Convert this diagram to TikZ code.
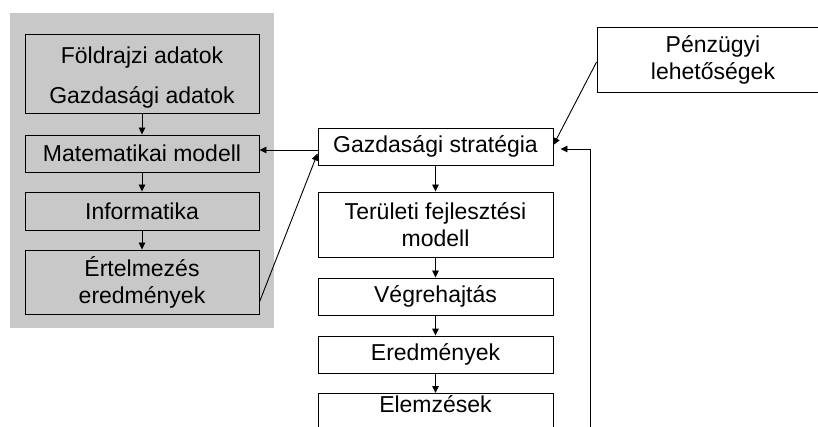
\documentclass[tikz,border=0pt]{standalone}
\usepackage{fontspec}
\setmainfont{Liberation Sans}
\usetikzlibrary{arrows.meta}
\definecolor{panelgray}{RGB}{200,200,200}
\begin{document}
\begin{tikzpicture}[x=1pt,y=-1pt,
  every node/.style={font=\fontsize{23}{27}\selectfont, text=black},
  box/.style={draw=black, line width=0.9pt, align=center, inner sep=0pt},
  leftbox/.style={box, fill=panelgray, minimum width=234pt},
  rightbox/.style={box, fill=white, minimum width=235pt},
  arr/.style={draw=black, line width=0.9pt, -{Triangle[length=7pt,width=6.5pt]}}]
  \useasboundingbox (0,0) rectangle (818,427);
  \clip (0,0) rectangle (818,427);
  \fill[white] (0,0) rectangle (818,427);

  % shaded panel of the modelling steps
  \fill[panelgray] (10,13) rectangle (274,328);

  % left column
  \node[leftbox, anchor=north, text height=69pt, text depth=10pt] (data) at (142,34)
    {Földrajzi adatok\\[13pt]Gazdasági adatok};
  \node[leftbox, minimum height=37pt] (math) at (142,153.5) {Matematikai modell};
  \node[leftbox, minimum height=38pt] (info) at (142,211) {Informatika};
  \node[leftbox, minimum height=64pt] (interp) at (142,282) {Értelmezés\\eredmények};

  % right column
  \node[rightbox, minimum height=37pt] (strat) at (435.5,146.5) {Gazdasági stratégia};
  \node[rightbox, minimum height=65pt] (terul) at (435.5,224.5) {Területi fejlesztési\\modell};
  \node[rightbox, minimum height=37pt] (exec) at (435.5,296.5) {Végrehajtás};
  \node[rightbox, minimum height=37pt] (res) at (435.5,354.5) {Eredmények};
  \node[rightbox, anchor=north, text height=19pt, text depth=30pt] (anal) at (435.5,393) {Elemzések};

  % financial possibilities
  \node[box, fill=white, minimum width=232pt, minimum height=65pt] (fin) at (713,59.5)
    {Pénzügyi\\lehetőségek};

  % flow within the left column
  \draw[arr] (data.south) -- (math.north);
  \draw[arr] (math.south) -- (info.north);
  \draw[arr] (info.south) -- (interp.north);

  % flow within the right column
  \draw[arr] (strat.south) -- (terul.north);
  \draw[arr] (terul.south) -- (exec.north);
  \draw[arr] (exec.south) -- (res.north);
  \draw[arr] (res.south) -- (anal.north);

  % links between the columns
  \draw[arr] ([yshift=-3.5pt]strat.west) -- ([yshift=3.5pt]math.east);
  \draw[arr] ([yshift=-20pt]interp.east) -- ([yshift=-7pt]strat.west);
  \draw[arr] ([yshift=-2.5pt]fin.west) -- ([yshift=1.5pt]strat.east);

  % feedback from below
  \coordinate (fb) at (590,427);
  \draw[arr] (fb) |- ([xshift=7pt,yshift=-2.5pt]strat.east);
\end{tikzpicture}
\end{document}
